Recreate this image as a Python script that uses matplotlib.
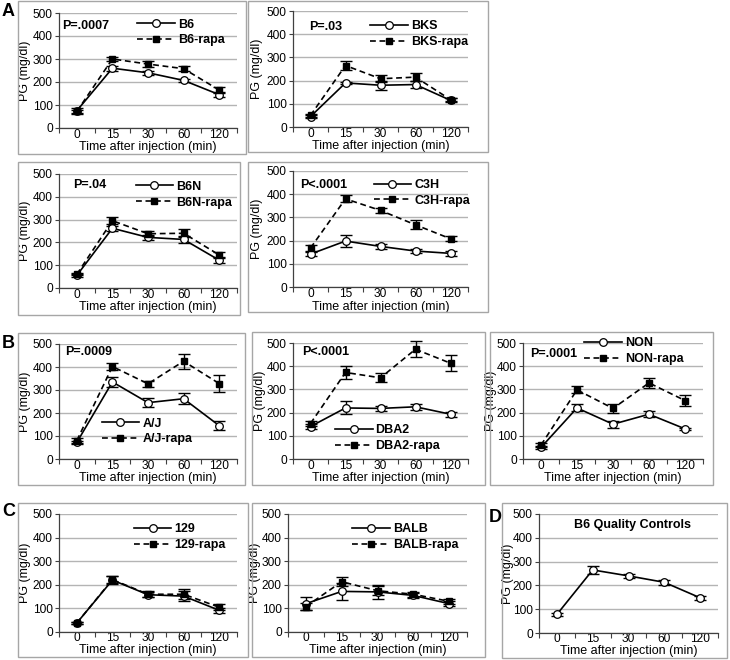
import matplotlib
matplotlib.use('Agg')
import matplotlib.pyplot as plt
import matplotlib.ticker as ticker
from matplotlib.patches import Rectangle
import numpy as np

plt.rcParams['font.family'] = ['Liberation Sans', 'DejaVu Sans']
plt.rcParams['font.size'] = 9

# Time points (categories)
times = ['0', '15', '30', '60', '120']

# Panel A
b6 = [75, 260, 240, 207, 145]
b6_err = [12, 10, 8, 8, 10]
b6_rapa = [72, 300, 278, 258, 165]
b6_rapa_err = [8, 10, 12, 12, 12]

bks = [45, 190, 180, 183, 115]
bks_err = [8, 5, 20, 15, 8]
bks_rapa = [50, 265, 208, 215, 118]
bks_rapa_err = [8, 18, 15, 18, 8]

b6n = [55, 262, 222, 213, 122]
b6n_err = [5, 12, 12, 15, 12]
b6n_rapa = [60, 295, 238, 240, 145]
b6n_rapa_err = [5, 15, 10, 18, 15]

c3h = [142, 198, 175, 155, 145]
c3h_err = [10, 25, 12, 8, 10]
c3h_rapa = [168, 380, 330, 268, 208]
c3h_rapa_err = [12, 15, 12, 20, 10]

# Panel B
aj = [72, 335, 245, 262, 145]
aj_err = [8, 22, 20, 25, 20]
aj_rapa = [80, 402, 327, 425, 328]
aj_rapa_err = [10, 15, 12, 33, 38]

dba2 = [140, 220, 218, 225, 193]
dba2_err = [10, 28, 12, 12, 10]
dba2_rapa = [153, 373, 350, 473, 413]
dba2_rapa_err = [12, 30, 20, 35, 35]

non = [50, 220, 150, 193, 130]
non_err = [5, 15, 15, 12, 5]
non_rapa = [60, 298, 218, 328, 252]
non_rapa_err = [8, 15, 20, 20, 25]

# Panel C
s129 = [38, 220, 158, 152, 92]
s129_err = [5, 18, 10, 20, 10]
s129_rapa = [38, 222, 160, 160, 105]
s129_rapa_err = [5, 15, 12, 22, 12]

balb = [120, 172, 170, 155, 120]
balb_err = [28, 35, 30, 10, 10]
balb_rapa = [108, 213, 175, 160, 130]
balb_rapa_err = [15, 20, 20, 10, 10]

# Panel D
b6_qc = [78, 265, 240, 213, 148]
b6_qc_err = [8, 15, 10, 10, 8]

W, H = 730, 660
fig = plt.figure(figsize=(W / 100, H / 100), dpi=100)

FRAME = '#a6a6a6'
GRID = '#b4b4b4'
SPINE = '#404040'
TICK_FS = 8.6
LABEL_FS = 9
TEXT_FS = 9


def add_frame(x0, y0, x1, y1):
    fig.add_artist(Rectangle((x0 / W, 1 - y1 / H), (x1 - x0) / W, (y1 - y0) / H,
                             transform=fig.transFigure, fill=False,
                             edgecolor=FRAME, linewidth=1.0))


def add_axes_px(l, t, r, b):
    return fig.add_axes([l / W, 1 - b / H, (r - l) / W, (b - t) / H])


def style_axes(ax, box, ylab_off, xlab_top, xpad=1.0):
    l, t, r, b = box
    ax.set_xlim(-0.5, 4.5)
    ax.set_ylim(0, 500)
    ax.yaxis.set_major_locator(ticker.MultipleLocator(100))
    ax.set_xticks(np.arange(-0.5, 5, 1))
    ax.set_xticklabels([])
    ax.set_xticks(np.arange(5), minor=True)
    ax.set_xticklabels(times, minor=True)
    ax.tick_params(axis='x', which='major', length=3.5, width=0.8, color=SPINE, direction='out')
    ax.tick_params(axis='x', which='minor', length=0, pad=xpad, labelsize=TICK_FS)
    ax.tick_params(axis='y', length=3, width=0.8, color=SPINE, pad=1.5, labelsize=TICK_FS)
    for s in ['top', 'right']:
        ax.spines[s].set_visible(False)
    for s in ['left', 'bottom']:
        ax.spines[s].set_color(SPINE)
        ax.spines[s].set_linewidth(0.9)
    ax.yaxis.grid(True, color=GRID, linewidth=1.0)
    ax.set_axisbelow(True)
    ax.set_ylabel('PG (mg/dl)', fontsize=LABEL_FS, va='center')
    ax.yaxis.set_label_coords(-ylab_off / (r - l), 0.5)
    ax.set_xlabel('Time after injection (min)', fontsize=LABEL_FS, va='top')
    ax.xaxis.set_label_coords(0.5, -xlab_top / (b - t))


def plot_pair(ax, ctrl, ctrl_err, rapa, rapa_err, name):
    x = np.arange(len(times))
    for vals, errs in [(rapa, rapa_err), (ctrl, ctrl_err)]:
        eb = ax.errorbar(x, vals, yerr=errs, fmt='none', ecolor='black',
                         elinewidth=1.0, capsize=4.5, capthick=1.0, zorder=3)
        for art in eb.get_children():
            art.set_clip_on(False)
    ax.plot(x, ctrl, color='black', linestyle='-', linewidth=1.2, marker='o',
            markersize=5.5, markerfacecolor='white', markeredgecolor='black',
            markeredgewidth=0.9, label=name, zorder=4, clip_on=False)
    ax.plot(x, rapa, color='black', linestyle=(0, (3.5, 2.2)), linewidth=1.2,
            marker='s', markersize=5, markerfacecolor='black',
            markeredgecolor='black', label=name + '-rapa', zorder=5, clip_on=False)


def add_legend(ax, xy):
    ax.legend(loc='upper left', bbox_to_anchor=xy, frameon=False,
              borderpad=0, borderaxespad=0, handlelength=3.0,
              handletextpad=0.25, labelspacing=0.3, numpoints=1,
              prop={'weight': 'bold', 'size': TEXT_FS})


# name, data, frame box, axes box, legend anchor, p-value text, p position,
# ylabel offset, xlabel top offset, tick pad
panels = [
    ('B6', (b6, b6_err, b6_rapa, b6_rapa_err), (18, 1, 246, 154), (59, 13, 237, 128),
     (0.44, 0.95), 'P=.0007', (0.02, 0.89), 34, 13, 1.0),
    ('BKS', (bks, bks_err, bks_rapa, bks_rapa_err), (248, 1, 488, 152), (293, 11, 468, 127),
     (0.44, 0.92), 'P=.03', (0.09, 0.86), 36, 13, 1.0),
    ('B6N', (b6n, b6n_err, b6n_rapa, b6n_rapa_err), (18, 162, 240, 315), (59, 174, 237, 288),
     (0.43, 0.94), 'P=.04', (0.08, 0.90), 34, 13, 1.0),
    ('C3H', (c3h, c3h_err, c3h_rapa, c3h_rapa_err), (248, 162, 488, 312), (293, 171, 468, 287),
     (0.46, 0.93), 'P<.0001', (0.04, 0.88), 36, 14, 1.0),
    ('A/J', (aj, aj_err, aj_rapa, aj_rapa_err), (18, 333, 245, 485), (59, 344, 237, 459),
     (0.24, 0.36), 'P=.0009', (0.035, 0.93), 34, 13, 1.0),
    ('DBA2', (dba2, dba2_err, dba2_rapa, dba2_rapa_err), (252, 332, 485, 485), (293, 343, 468, 459),
     (0.24, 0.30), 'P<.0001', (0.05, 0.92), 33, 13, 1.0),
    ('NON', (non, non_err, non_rapa, non_rapa_err), (490, 332, 713, 485), (523, 343, 703, 459),
     (0.34, 1.05), 'P=.0001', (0.04, 0.905), 32, 13, 1.0),
    ('129', (s129, s129_err, s129_rapa, s129_rapa_err), (18, 503, 248, 657), (59, 514, 237, 632),
     (0.42, 0.92), None, None, 34, 12, 0.3),
    ('BALB', (balb, balb_err, balb_rapa, balb_rapa_err), (252, 503, 485, 657), (288, 514, 467, 632),
     (0.36, 0.92), None, None, 33, 12, 0.3),
]

for name, data, frame, box, leg_xy, ptext, pxy, ylo, xlo, tpad in panels:
    add_frame(*frame)
    ax = add_axes_px(*box)
    plot_pair(ax, *data, name)
    style_axes(ax, box, ylo, xlo, xpad=tpad)
    add_legend(ax, leg_xy)
    if ptext:
        ax.text(pxy[0], pxy[1], ptext, transform=ax.transAxes, fontsize=TEXT_FS,
                fontweight='bold', ha='left', va='center')

# Panel D
add_frame(502, 503, 727, 658)
box = (539, 514, 718, 633)
ax = add_axes_px(*box)
x = np.arange(len(times))
ax.errorbar(x, b6_qc, yerr=b6_qc_err, fmt='none', ecolor='black',
            elinewidth=1.0, capsize=4.5, capthick=1.0, zorder=3)
ax.plot(x, b6_qc, color='black', linewidth=1.2, marker='o', markersize=5.5,
        markerfacecolor='white', markeredgecolor='black', markeredgewidth=0.9,
        zorder=4, clip_on=False)
style_axes(ax, box, 31.5, 12, xpad=0.2)
ax.text(0.52, 0.91, 'B6 Quality Controls', transform=ax.transAxes, fontsize=TEXT_FS,
        fontweight='bold', ha='center', va='center')

# Panel letters
for letter, lx, ly in [('A', 2, 11), ('B', 2, 343), ('C', 2, 512), ('D', 489, 517)]:
    fig.text(lx / W, 1 - ly / H, letter, fontsize=13, fontweight='bold',
             ha='left', va='center')

fig.savefig('out.png', dpi=100)
